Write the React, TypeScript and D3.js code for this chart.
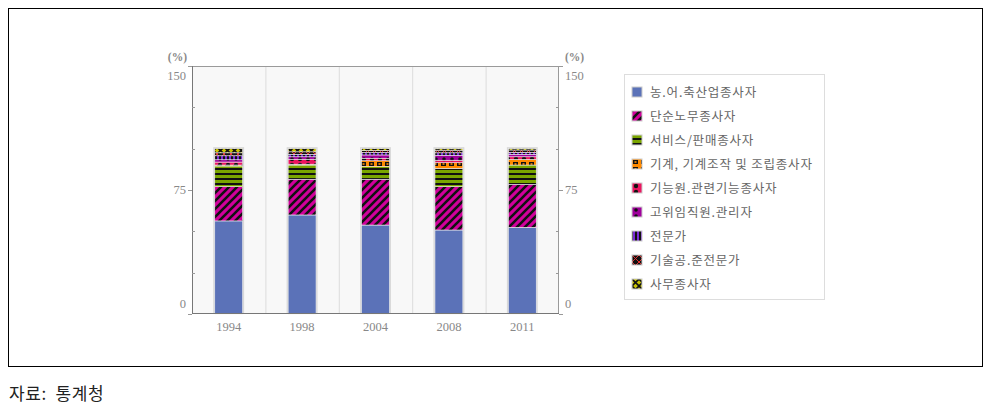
import React from "react";
import * as d3 from "d3";

const years = ["1994", "1998", "2004", "2008", "2011"];
const seriesNames = [
  "농.어.축산업종사자",
  "단순노무종사자",
  "서비스/판매종사자",
  "기계, 기계조작 및 조립종사자",
  "기능원.관련기능종사자",
  "고위임직원.관리자",
  "전문가",
  "기술공.준전문가",
  "사무종사자",
];
const agri = [56.3, 59.9, 53.8, 50.8, 52.4];
const labor = [20.7, 21.6, 27.7, 26.2, 26.0];
const service = [12.5, 8.6, 7.6, 11.1, 11.7];
const machine = [0.6, 0.5, 3.6, 3.4, 3.4];
const craft = [1.8, 3.0, 1.5, 1.5, 1.6];
const manager = [1.4, 1.5, 2.0, 3.0, 1.5];
const professional = [2.4, 1.5, 1.5, 1.5, 1.2];
const technician = [1.8, 1.5, 1.2, 1.6, 1.4];
const clerical = [2.5, 1.9, 1.1, 0.9, 0.8];
const seriesValues = [agri, labor, service, machine, craft, manager, professional, technician, clerical];
const yTicks = [0, 75, 150];
const yMinorTicks = [25, 50, 100, 125];

const fills = [
  "#5b72b8",
  "url(#p1)",
  "url(#p2)",
  "url(#p3)",
  "url(#p4)",
  "url(#p5)",
  "url(#p6)",
  "url(#p7)",
  "url(#p8)",
];

export default function App() {
  const left = 192, right = 559, top = 66, bottom = 314;
  const x = d3.scaleBand<string>().domain(years).range([left, right]).paddingInner(0.62).paddingOuter(0.31);
  const y = d3.scaleLinear().domain([0, 150]).range([bottom, top]);
  const step = x.step();

  const rows = years.map((yr, i) => {
    const o: any = { year: yr };
    seriesNames.forEach((s, k) => (o[s] = seriesValues[k][i]));
    return o;
  });
  const stacked = d3.stack<any>().keys(seriesNames)(rows);

  const tickFont = "'Liberation Serif', serif";
  const korFont = "'Noto Sans CJK KR', sans-serif";

  return (
    <svg width={987} height={412} style={{ position: "fixed", left: 0, top: 0, background: "#fff" }}>
      <defs>
        <pattern id="p1" patternUnits="userSpaceOnUse" width="8" height="8">
          <rect width="8" height="8" fill="#d1009c" />
          <path d="M-2,2 L2,-2 M0,8 L8,0 M6,10 L10,6" stroke="#111" strokeWidth="2.6" />
        </pattern>
        <pattern id="p2" patternUnits="userSpaceOnUse" width="6" height="5">
          <rect width="6" height="5" fill="#7aa600" />
          <rect y="3" width="6" height="2" fill="#111" />
        </pattern>
        <pattern id="p3" patternUnits="userSpaceOnUse" width="8" height="7">
          <rect width="8" height="7" fill="#ff8a00" />
          <rect x="1" y="1" width="5" height="4" fill="#111" />
          <rect x="2.5" y="2.2" width="2" height="1.6" fill="#ff8a00" />
        </pattern>
        <pattern id="p4" patternUnits="userSpaceOnUse" width="8" height="6">
          <rect width="8" height="6" fill="#ec1560" />
          <circle cx="4" cy="3" r="2.2" fill="#111" />
        </pattern>
        <pattern id="p5" patternUnits="userSpaceOnUse" width="8" height="6">
          <rect width="8" height="6" fill="#a0009c" />
          <circle cx="4" cy="3" r="1.8" fill="#111" />
        </pattern>
        <pattern id="p6" patternUnits="userSpaceOnUse" width="4" height="4">
          <rect width="4" height="4" fill="#111" />
          <rect x="1" width="2" height="4" fill="#7a2bd6" />
        </pattern>
        <pattern id="p7" patternUnits="userSpaceOnUse" width="7" height="7">
          <rect width="7" height="7" fill="#111" />
          <path d="M0,0 L7,7 M7,0 L0,7" stroke="#e03030" strokeWidth="1" />
        </pattern>
        <pattern id="p8" patternUnits="userSpaceOnUse" width="7" height="7">
          <rect width="7" height="7" fill="#c8c400" />
          <path d="M0,0 L7,7 M7,0 L0,7" stroke="#111" strokeWidth="1.6" />
        </pattern>
      </defs>

      <rect x={8.5} y={8.5} width={974} height={358} fill="#fff" stroke="#000" strokeWidth={1} />

      {/* plot background */}
      <rect x={left} y={top} width={right - left} height={bottom - top} fill="#f8f8f8" />
      {years.slice(1).map((yr) => (
        <line key={yr} x1={(x(yr) as number) - step * 0.31 + 0.5} x2={(x(yr) as number) - step * 0.31 + 0.5}
          y1={top} y2={bottom} stroke="#dcdcdc" strokeWidth={1} />
      ))}

      {/* bars */}
      {years.map((yr) => (
        <rect key={"o" + yr} x={(x(yr) as number) - 1.5} y={y(100) - 1.5} width={x.bandwidth() + 3}
          height={bottom - y(100) + 1.5} fill="#d8d8d8" />
      ))}
      {stacked.map((layer, k) => (
        <g key={layer.key}>
          {layer.map((d, i) => (
            <rect key={i} x={x(years[i]) as number} y={y(d[1])} width={x.bandwidth()}
              height={Math.max(0, y(d[0]) - y(d[1]))} fill={fills[k]} stroke="#eee" strokeWidth={0.6} />
          ))}
        </g>
      ))}

      {/* plot frame */}
      <rect x={left + 0.5} y={top + 0.5} width={right - left - 1} height={bottom - top - 1} fill="none" stroke="#9a9a9a" />
      <line x1={left + 0.5} x2={left + 0.5} y1={top} y2={bottom} stroke="#777" />
      <line x1={left} x2={right} y1={bottom - 0.5} y2={bottom - 0.5} stroke="#777" />

      {/* ticks */}
      {yMinorTicks.map((t) => (
        <g key={t}>
          <line x1={left} x2={left + 3} y1={Math.round(y(t)) + 0.5} y2={Math.round(y(t)) + 0.5} stroke="#999" />
          <line x1={right - 3} x2={right} y1={Math.round(y(t)) + 0.5} y2={Math.round(y(t)) + 0.5} stroke="#999" />
        </g>
      ))}
      {yTicks.map((t) => (
        <g key={t}>
          <line x1={left - 4} x2={left} y1={Math.round(y(t)) + 0.5} y2={Math.round(y(t)) + 0.5} stroke="#999" />
          <line x1={right} x2={right + 4} y1={Math.round(y(t)) + 0.5} y2={Math.round(y(t)) + 0.5} stroke="#999" />
        </g>
      ))}
      {yTicks.map((t) => {
        const yy = t === 150 ? y(t) + 14 : t === 0 ? y(t) - 6 : y(t) + 4;
        return (
          <g key={"l" + t} fontFamily={tickFont} fontSize={12.5} fill="#888">
            <text x={left - 6} y={yy} textAnchor="end">{t}</text>
            <text x={right + 6} y={yy} textAnchor="start">{t}</text>
          </g>
        );
      })}
      <text x={left - 5} y={61} textAnchor="end" fontFamily={tickFont} fontSize={11.5} fontWeight="bold" fill="#888">(%)</text>
      <text x={right + 6} y={61} textAnchor="start" fontFamily={tickFont} fontSize={11.5} fontWeight="bold" fill="#888">(%)</text>
      {years.map((yr) => (
        <text key={"x" + yr} x={(x(yr) as number) + x.bandwidth() / 2} y={331} textAnchor="middle"
          fontFamily={tickFont} fontSize={12.5} fill="#888">{yr}</text>
      ))}

      {/* legend */}
      <rect x={624.5} y={74.5} width={200} height={225} fill="#fff" stroke="#ddd" />
      {seriesNames.map((s, k) => (
        <g key={s} transform={`translate(632,${87 + k * 24})`}>
          <rect x={0} y={0} width={10} height={10} fill={fills[k]} stroke="#ccc" strokeWidth={1} />
          <text x={18} y={10} fontFamily={korFont} fontSize={12.5} letterSpacing={0.8} fill="#666">{s}</text>
        </g>
      ))}

      <text x={9} y={400} fontFamily={korFont} fontSize={17} letterSpacing={0.6} fill="#222" style={{ whiteSpace: "pre" }}>{"자료:  통계청"}</text>
    </svg>
  );
}
